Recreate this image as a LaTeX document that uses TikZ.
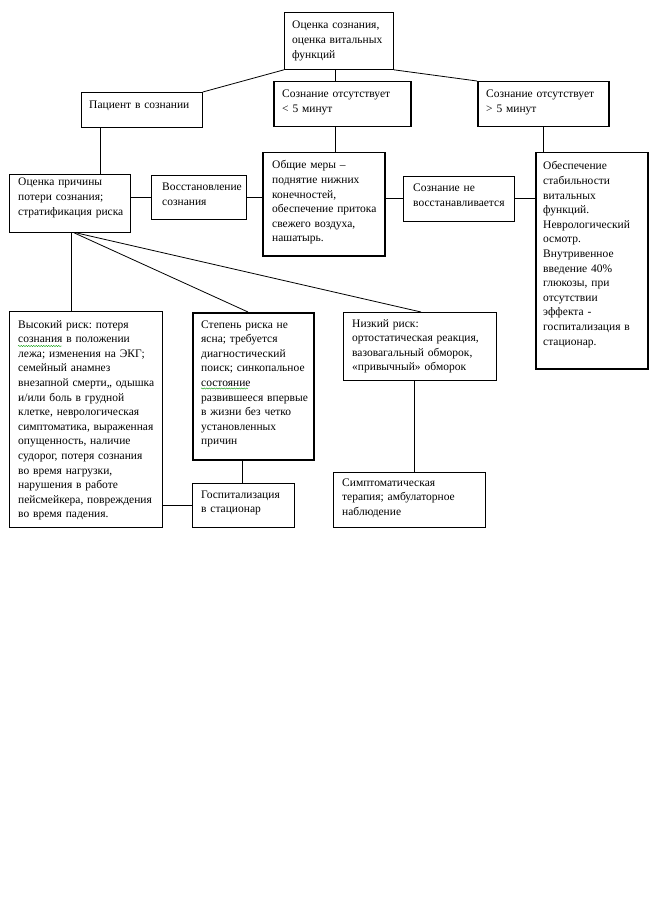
\documentclass[tikz,border=0pt]{standalone}
\usepackage{fontspec}
\setmainfont{Liberation Serif}
\usetikzlibrary{decorations.pathmorphing}
\frenchspacing
\begin{document}
\begin{tikzpicture}[x=1pt,y=-1pt,
  box/.style={draw=black, line width=0.8pt, inner sep=0pt, anchor=north west, fill=white},
  heavy/.style={line width=1.5pt},
  txt/.style={anchor=base west, inner sep=0pt, align=left, text width=#1,
    font=\fontsize{11.5}{14.6}\selectfont},
  ln/.style={draw=black, line width=0.8pt},
  spell/.style={draw=green!60!black, line width=0.4pt,
    decorate, decoration={snake, amplitude=0.6pt, segment length=2.5pt}}]
\useasboundingbox[fill=white] (0,0) rectangle (661,917);

% boxes
\node[box, minimum width=109pt, minimum height=57pt] (A) at (284,12) {};
\node[box, minimum width=121pt, minimum height=35pt] (B) at (81,92) {};
\node[box, heavy, minimum width=137pt, minimum height=45pt] (C) at (273,81) {};
\node[box, heavy, minimum width=131pt, minimum height=45pt] (D) at (477,81) {};
\node[box, minimum width=121pt, minimum height=58pt] (E) at (9,174) {};
\node[box, minimum width=95pt, minimum height=44pt] (F) at (151,175) {};
\node[box, heavy, minimum width=122pt, minimum height=103pt] (G) at (262,152) {};
\node[box, minimum width=111pt, minimum height=45pt] (H) at (403,176) {};
\node[box, heavy, minimum width=112pt, minimum height=216pt] (I) at (535,152) {};
\node[box, minimum width=153pt, minimum height=216pt] (J) at (9,311) {};
\node[box, heavy, minimum width=121pt, minimum height=147pt] (K) at (192,312) {};
\node[box, minimum width=153pt, minimum height=68pt] (L) at (343,312) {};
\node[box, minimum width=102pt, minimum height=44pt] (M) at (192,483) {};
\node[box, minimum width=152pt, minimum height=55pt] (N) at (333,472) {};

% texts
\node[txt=98pt] (tA) at ([shift={(8,17)}]A.north west) {Оценка сознания,\\оценка витальных\\функций};
\node[txt=110pt] (tB) at ([shift={(8,17)}]B.north west) {Пациент в сознании};
\node[txt=125pt] (tC) at ([shift={(9,17)}]C.north west) {Сознание отсутствует\\< 5 минут};
\node[txt=120pt] (tD) at ([shift={(9,17)}]D.north west) {Сознание отсутствует\\> 5 минут};
\node[txt=110pt] (tE) at ([shift={(9,12)}]E.north west) {Оценка причины\\потери сознания;\\стратификация риска};
\node[txt=82pt] (tF) at ([shift={(11,16)}]F.north west) {Восстановление\\сознания};
\node[txt=110pt] (tG) at ([shift={(10,17)}]G.north west) {Общие меры –\\поднятие нижних\\конечностей,\\обеспечение притока\\свежего воздуха,\\нашатырь.};
\node[txt=99pt] (tH) at ([shift={(10,16)}]H.north west) {Сознание не\\восстанавливается};
\node[txt=102pt] (tI) at ([shift={(8,18)}]I.north west) {Обеспечение\\стабильности\\витальных\\функций.\\Неврологический\\осмотр.\\Внутривенное\\введение 40\%\\глюкозы, при\\отсутствии\\эффекта -\\госпитализация в\\стационар.};
\node[txt=142pt] (tJ) at ([shift={(9,17)}]J.north west) {Высокий риск: потеря\\сознания в положении\\лежа; изменения на ЭКГ;\\семейный анамнез\\внезапной смерти,, одышка\\и/или боль в грудной\\клетке, неврологическая\\симптоматика, выраженная\\опущенность, наличие\\судорог, потеря сознания\\во время нагрузки,\\нарушения в работе\\пейсмейкера, повреждения\\во время падения.};
\node[txt=110pt] (tK) at ([shift={(9,16)}]K.north west) {Степень риска не\\ясна; требуется\\диагностический\\поиск; синкопальное\\состояние\\развившееся впервые\\в жизни без четко\\установленных\\причин};
\node[txt=142pt] (tL) at ([shift={(9,15)}]L.north west) {Низкий риск:\\ортостатическая реакция,\\вазовагальный обморок,\\«привычный» обморок};
\node[txt=90pt] (tM) at ([shift={(9,15)}]M.north west) {Госпитализация\\в стационар};
\node[txt=140pt] (tN) at ([shift={(9,14)}]N.north west) {Симптоматическая\\терапия; амбулаторное\\наблюдение};

% spell-check underlines
\path (J.north west) ++(9,35) coordinate (s1) ++(44,0) coordinate (s2);
\path (K.north west) ++(9,76.5) coordinate (s3) ++(47,0) coordinate (s4);
\draw[spell] (s1) -- (s2);
\draw[spell] (s3) -- (s4);

% helper points
\path (A.south west) ++(51,0) coordinate (a1);
\path (B.south west) ++(19,0) coordinate (b1);
\path (E.south west) ++(62,0) coordinate (e1);
\path (E.south west) ++(65,0) coordinate (e2);
\path (E.south west) ++(67,0) coordinate (e3);
\path (K.north west) ++(56,0) coordinate (k1);
\path (K.south west) ++(50,0) coordinate (k2);
\path (L.north west) ++(78,0) coordinate (l1);
\path (N.north west) ++(81,0) coordinate (n1);

% connectors
\draw[ln] (A.south west) -- (B.north east);
\draw[ln] (a1) -- (a1 |- C.north);
\draw[ln] (A.south east) -- (D.north west);
\draw[ln] (b1) -- (b1 |- E.north);
\draw[ln] (C.south -| a1) -- (G.north -| a1);
\draw[ln] (D.south) -- (D.south |- I.north);
\draw[ln] (F.west -| E.east) -- (F.west);
\draw[ln] (F.east) -- (F.east -| G.west);
\draw[ln] (H.west -| G.east) -- (H.west);
\draw[ln] (H.east) -- (H.east -| I.west);
\draw[ln] (e1) -- (e1 |- J.north);
\draw[ln] (e2) -- (k1);
\draw[ln] (e3) -- (l1);
\draw[ln] (M.west -| J.east) -- (M.west);
\draw[ln] (k2) -- (k2 |- M.north);
\draw[ln] (n1 |- L.south) -- (n1);
\end{tikzpicture}
\end{document}
